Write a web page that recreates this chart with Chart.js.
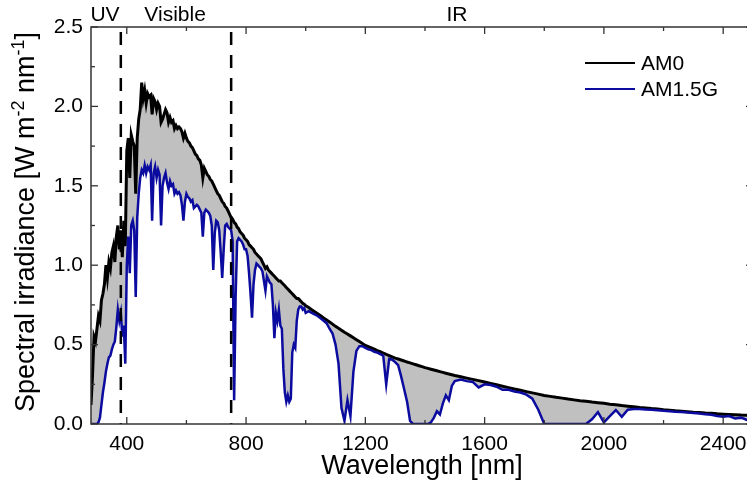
<!DOCTYPE html>
<html>
<head>
<meta charset="utf-8">
<script src="https://cdn.jsdelivr.net/npm/chart.js@4.4.1/dist/chart.umd.min.js"></script>
<style>
html,body{margin:0;padding:0;background:#fff;overflow:hidden;width:747px;height:486px}
#wrap{width:747px;height:486px;overflow:hidden;position:relative}
canvas{display:block}
</style>
</head>
<body>
<div id="wrap"><canvas id="c" width="756" height="486"></canvas></div>
<script>
// ---- data ----
const wavelengths = [
 280,285,290,295,300,305,310,315,320,325,330,335,340,345,350,355,360,365,370,375,
 380,385,390,395,400,405,410,415,420,425,430,435,440,445,450,455,460,465,470,475,
 480,485,490,495,500,505,510,515,520,525,530,535,540,545,550,555,560,565,570,575,
 580,585,590,595,600,605,610,615,620,625,630,635,640,645,650,655,660,665,670,675,
 680,685,690,695,700,705,710,715,720,725,730,735,740,745,750,755,760,765,770,775,
 780,785,790,795,800,805,810,815,820,825,830,835,840,845,850,855,860,865,870,875,
 880,885,890,895,900,905,910,915,920,925,930,935,940,945,950,955,960,965,970,975,
 980,985,990,995,1000,
 1010,1020,1030,1040,1050,1060,1070,1080,1090,1100,
 1110,1120,1130,1140,1150,1160,1170,1180,1190,1200,
 1210,1220,1230,1240,1250,1260,1270,1280,1290,1300,
 1310,1320,1330,1340,1350,1360,1370,1380,1390,1400,
 1410,1420,1430,1440,1450,1460,1470,1480,1490,1500,
 1520,1540,1560,1580,1600,1620,1640,1660,1680,1700,
 1720,1740,1760,1780,1800,1820,1840,1860,1880,1900,
 1920,1940,1960,1980,2000,2020,2040,2060,2080,2100,
 2120,2140,2160,2180,2200,2220,2240,2260,2280,2300,
 2320,2340,2360,2380,2400,2420,2440,2460,2480,2500
];
const am0 = [
 0.12,0.30,0.55,0.52,0.60,0.68,0.65,0.78,0.82,0.88,1.00,0.92,1.02,0.98,1.08,1.12,1.02,1.18,1.25,1.10,
 1.22,1.05,1.28,1.12,1.72,1.80,1.55,1.82,1.78,1.75,1.45,1.80,1.92,1.98,2.15,2.05,2.10,2.02,2.08,2.06,
 2.07,1.95,2.05,2.03,1.98,2.02,2.00,1.90,1.92,1.95,1.98,1.96,1.90,1.93,1.90,1.91,1.86,1.88,1.86,1.87,
 1.86,1.84,1.80,1.83,1.80,1.78,1.77,1.75,1.74,1.72,1.70,1.69,1.67,1.66,1.63,1.55,1.61,1.59,1.57,1.56,
 1.54,1.53,1.51,1.49,1.47,1.45,1.44,1.42,1.40,1.39,1.37,1.36,1.34,1.32,1.30,1.29,1.27,1.26,1.24,1.23,
 1.21,1.20,1.19,1.17,1.16,1.15,1.13,1.12,1.11,1.10,1.08,1.07,1.06,1.05,1.04,1.02,1.00,0.98,0.99,0.97,
 0.96,0.95,0.94,0.93,0.92,0.91,0.90,0.90,0.89,0.88,0.87,0.86,0.85,0.84,0.83,0.82,0.81,0.80,0.79,0.79,
 0.78,0.77,0.76,0.755,0.745,
 0.733,0.72,0.707,0.694,0.681,0.668,0.655,0.642,0.629,0.615,
 0.603,0.591,0.578,0.567,0.555,0.543,0.531,0.519,0.507,0.495,
 0.487,0.479,0.471,0.462,0.455,0.447,0.438,0.431,0.423,0.415,
 0.409,0.403,0.397,0.390,0.385,0.379,0.373,0.367,0.361,0.355,
 0.350,0.345,0.340,0.335,0.330,0.325,0.320,0.315,0.310,0.305,
 0.297,0.289,0.281,0.273,0.265,0.256,0.247,0.238,0.229,0.220,
 0.212,0.204,0.196,0.188,0.180,0.174,0.168,0.163,0.157,0.152,
 0.147,0.143,0.138,0.134,0.130,0.125,0.121,0.116,0.112,0.108,
 0.104,0.101,0.097,0.094,0.090,0.087,0.083,0.080,0.077,0.074,
 0.072,0.069,0.067,0.064,0.062,0.060,0.058,0.056,0.055,0.054
];
const am15g = [
 0,0,0,0,0,0.01,0.04,0.12,0.20,0.26,0.33,0.38,0.42,0.43,0.47,0.50,0.52,0.61,0.72,0.65,
 0.70,0.55,0.62,0.38,1.00,1.18,0.95,1.25,1.28,1.22,0.80,1.30,1.45,1.55,1.60,1.58,1.63,1.58,1.62,1.60,
 1.63,1.28,1.58,1.62,1.55,1.60,1.57,1.25,1.50,1.55,1.58,1.52,1.48,1.53,1.50,1.51,1.45,1.47,1.45,1.46,
 1.44,1.38,1.28,1.40,1.45,1.43,1.42,1.40,1.41,1.36,1.37,1.38,1.37,1.35,1.33,1.18,1.33,1.35,1.34,1.33,
 1.31,1.25,0.97,1.20,1.28,1.27,1.22,1.08,0.92,1.10,1.25,1.26,1.24,1.23,1.22,1.15,0.15,0.80,1.15,1.17,
 1.16,1.15,1.13,1.10,1.10,1.06,0.95,0.82,0.67,0.88,0.97,1.01,1.00,0.99,0.98,0.96,0.90,0.84,0.93,0.91,
 0.89,0.88,0.75,0.54,0.70,0.65,0.72,0.62,0.60,0.35,0.20,0.14,0.18,0.14,0.16,0.45,0.50,0.48,0.65,0.72,
 0.74,0.74,0.72,0.73,0.70,
 0.71,0.70,0.69,0.68,0.665,0.65,0.635,0.60,0.57,0.50,
 0.38,0.10,0.02,0.15,0.05,0.33,0.46,0.49,0.49,0.48,
 0.47,0.465,0.455,0.45,0.44,0.43,0.25,0.41,0.405,0.39,
 0.37,0.30,0.22,0.14,0.02,0,0,0,0,0,
 0,0.01,0.04,0.08,0.06,0.13,0.18,0.15,0.24,0.27,
 0.28,0.27,0.265,0.23,0.25,0.245,0.235,0.215,0.215,0.205,
 0.198,0.185,0.16,0.09,0,0,0,0,0,0,
 0,0,0.03,0.075,0.01,0.05,0.088,0.045,0.09,0.095,
 0.095,0.092,0.09,0.087,0.083,0.08,0.077,0.075,0.072,0.07,
 0.066,0.062,0.058,0.05,0.045,0.05,0.035,0.04,0.025,0.02
];
const seriesLabels = ['AM0', 'AM1.5G'];
const xTickValues = [400, 800, 1200, 1600, 2000, 2400];
const xMinorValues = [600, 1000, 1400, 1800, 2200];
const yTickValues = [0, 0.5, 1.0, 1.5, 2.0, 2.5];
const yMinorValues = [0.25, 0.75, 1.25, 1.75, 2.25];
const regionNames = ['UV', 'Visible', 'IR'];
const regionBounds = [380, 750];

// ---- styles ----
const FONT = "'Liberation Sans', Arial, Helvetica, sans-serif";
const BLACK = '#000000';
const BLUE = '#0b0b9f';
const GREY = '#c0c0c0';
const AXIS = '#333333';

Chart.defaults.font.family = FONT;
Chart.defaults.color = '#000';

const decorPlugin = {
  id: 'decor',
  afterDatasetsDraw(chart) {
    const {ctx, chartArea: a, scales: {x}} = chart;
    ctx.save();
    ctx.strokeStyle = BLACK;
    ctx.lineWidth = 2.5;
    ctx.setLineDash([13, 10]);
    ctx.lineDashOffset = 18;
    regionBounds.forEach(b => {
      const px = x.getPixelForValue(b);
      ctx.beginPath();
      ctx.moveTo(px, a.top);
      ctx.lineTo(px, a.bottom);
      ctx.stroke();
    });
    ctx.restore();
  },
  afterDraw(chart) {
    const {ctx, chartArea: a, scales: {x, y}} = chart;
    ctx.save();
    // frame
    ctx.strokeStyle = AXIS;
    ctx.lineWidth = 1.5;
    ctx.strokeRect(a.left, a.top, a.right - a.left, a.bottom - a.top);
    // inward ticks on all four sides
    const tick = (x1, y1, x2, y2) => { ctx.beginPath(); ctx.moveTo(x1, y1); ctx.lineTo(x2, y2); ctx.stroke(); };
    ctx.lineWidth = 1.3;
    const MAJ = 7, MIN = 4;
    xTickValues.forEach(v => { const p = x.getPixelForValue(v); tick(p, a.bottom, p, a.bottom - MAJ); tick(p, a.top, p, a.top + MAJ); });
    xMinorValues.forEach(v => { const p = x.getPixelForValue(v); tick(p, a.bottom, p, a.bottom - MIN); tick(p, a.top, p, a.top + MIN); });
    yTickValues.forEach(v => { const p = y.getPixelForValue(v); tick(a.left, p, a.left + MAJ, p); tick(a.right, p, a.right - MAJ, p); });
    yMinorValues.forEach(v => { const p = y.getPixelForValue(v); tick(a.left, p, a.left + MIN, p); tick(a.right, p, a.right - MIN, p); });

    // region labels above the plot
    ctx.fillStyle = BLACK;
    ctx.font = '21px ' + FONT;
    ctx.textBaseline = 'alphabetic';
    ctx.textAlign = 'center';
    const regionCenters = [327, 562, 1507];
    regionNames.forEach((n, i) => ctx.fillText(n, x.getPixelForValue(regionCenters[i]), 21));

    // legend
    const ds = chart.data.datasets;
    ctx.textAlign = 'left';
    ctx.textBaseline = 'middle';
    ctx.font = '21px ' + FONT;
    [63, 89].forEach((ly, i) => {
      ctx.strokeStyle = ds[i].borderColor;
      ctx.lineWidth = 2;
      tick(585, ly, 635, ly);
      ctx.fillText(ds[i].label, 641, ly + 1);
    });

    // y axis title with superscripts
    const parts = [
      ['Spectral irradiance [W m', false], ['-2', true], [' nm', false], ['-1', true], [']', false]
    ];
    const big = '27px ' + FONT, small = '18px ' + FONT;
    let total = 0;
    parts.forEach(p => { ctx.font = p[1] ? small : big; total += ctx.measureText(p[0]).width; });
    ctx.translate(34, 222);
    ctx.rotate(-Math.PI / 2);
    ctx.textAlign = 'left';
    ctx.textBaseline = 'alphabetic';
    let cx = -total / 2;
    parts.forEach(p => {
      ctx.font = p[1] ? small : big;
      ctx.fillText(p[0], cx, p[1] ? -10 : 0);
      cx += ctx.measureText(p[0]).width;
    });
    ctx.restore();
  }
};

new Chart(document.getElementById('c'), {
  type: 'line',
  data: {
    datasets: [
      {
        label: seriesLabels[0],
        data: wavelengths.map((w, i) => ({x: w, y: am0[i]})),
        borderColor: BLACK, borderWidth: 3, pointRadius: 0, tension: 0,
        fill: 1, backgroundColor: GREY, order: 1
      },
      {
        label: seriesLabels[1],
        data: wavelengths.map((w, i) => ({x: w, y: am15g[i]})),
        borderColor: BLUE, borderWidth: 2.5, pointRadius: 0, tension: 0,
        fill: false, order: 0
      }
    ]
  },
  options: {
    responsive: false,
    animation: false,
    events: [],
    layout: {padding: {top: 27, right: 3, left: 0, bottom: 0}},
    plugins: {legend: {display: false}, tooltip: {enabled: false}},
    scales: {
      x: {
        type: 'linear', min: 280, max: 2500,
        afterBuildTicks: s => { s.ticks = xTickValues.map(v => ({value: v})); },
        afterFit: s => { s.height = 62; },
        ticks: {font: {size: 21}, color: '#000', padding: 8, maxRotation: 0, autoSkip: false, callback: v => String(v)},
        grid: {display: false, drawTicks: false},
        border: {display: false},
        title: {display: true, text: 'Wavelength [nm]', font: {size: 27}, color: '#000', padding: {top: 0, bottom: 3}}
      },
      y: {
        type: 'linear', min: 0, max: 2.5,
        afterBuildTicks: s => { s.ticks = yTickValues.map(v => ({value: v})); },
        afterFit: s => { s.width = 91; },
        ticks: {font: {size: 21}, color: '#000', padding: 8, callback: v => Number(v).toFixed(1)},
        grid: {display: false, drawTicks: false},
        border: {display: false}
      }
    }
  },
  plugins: [decorPlugin]
});
</script>
</body>
</html>
